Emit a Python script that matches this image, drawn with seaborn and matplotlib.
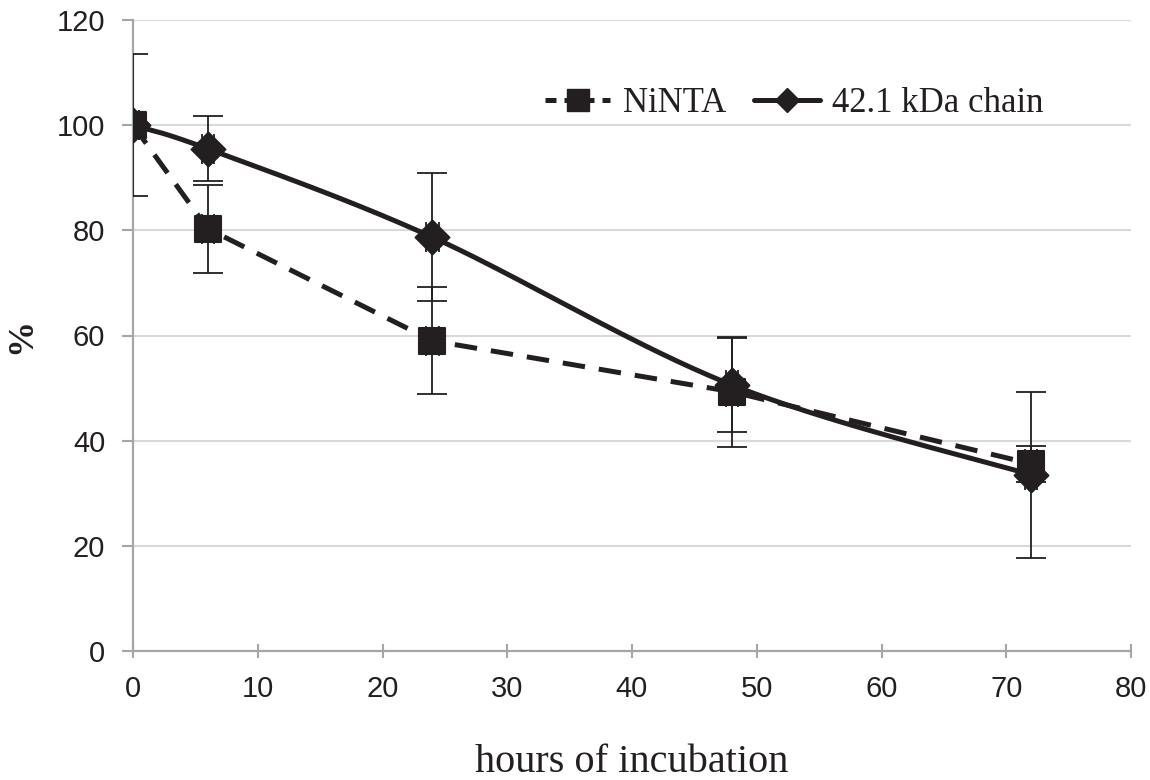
import numpy as np
import pandas as pd
import matplotlib
matplotlib.use("Agg")
import matplotlib.pyplot as plt
import seaborn as sns
from matplotlib.lines import Line2D

hours = [0, 6, 24, 48, 72]
ninta = [100, 80.3, 59.0, 49.3, 35.6]
ninta_err = [0.5, 8.4, 10.2, 10.5, 3.4]
chain = [100, 95.5, 78.7, 50.6, 33.5]
chain_err = [13.5, 6.2, 12.2, 9.0, 15.8]
x_err = [0.5, 0.5, 0.5, 0.5, 0.5]
series_names = ["NiNTA", "42.1 kDa chain"]

sns.set_style("white")
plt.rcParams['font.family'] = ['Liberation Sans', 'DejaVu Sans']

def smooth(xs, ys, n=40):
    # Catmull-Rom style smoothing for drawing the connecting curve
    xs = np.asarray(xs, float); ys = np.asarray(ys, float)
    px = np.concatenate([[xs[0]], xs, [xs[-1]]])
    py = np.concatenate([[ys[0]], ys, [ys[-1]]])
    outx, outy = [], []
    for i in range(1, len(px) - 2):
        p0 = np.array([px[i-1], py[i-1]]); p1 = np.array([px[i], py[i]])
        p2 = np.array([px[i+1], py[i+1]]); p3 = np.array([px[i+2], py[i+2]])
        t = np.linspace(0, 1, n)[:, None]
        c1 = p1 + (p2 - p0) / 6.0
        c2 = p2 - (p3 - p1) / 6.0
        b = ((1-t)**3)*p1 + 3*((1-t)**2)*t*c1 + 3*(1-t)*t**2*c2 + t**3*p2
        outx.extend(b[:, 0]); outy.extend(b[:, 1])
    return np.array(outx), np.array(outy)

fig = plt.figure(figsize=(11.5, 7.8), dpi=100)
ax = fig.add_axes([133/1150, 1-651/780, (1131-133)/1150, (651-20)/780])

col = "#231f20"
cx, cy = smooth(hours, chain)
sns.lineplot(x=hours, y=ninta, ax=ax, color=col, lw=3.6, linestyle=(0, (4.5, 2.8)), sort=False, legend=False)
sns.lineplot(x=cx, y=cy, ax=ax, color=col, lw=3.6, sort=False, legend=False)

ax.errorbar(hours, ninta, yerr=ninta_err, xerr=x_err, fmt='none', ecolor=col, elinewidth=1.3, capsize=11, capthick=1.3, zorder=3)
ax.errorbar(hours, chain, yerr=chain_err, xerr=x_err, fmt='none', ecolor=col, elinewidth=1.3, capsize=11, capthick=1.3, zorder=3)

df = pd.DataFrame({"h": hours * 2, "v": ninta + chain,
                   "s": [series_names[0]] * 5 + [series_names[1]] * 5})
sns.scatterplot(data=df[df.s == series_names[0]], x="h", y="v", ax=ax, marker="s", s=360, color=col, edgecolor=col, zorder=4, legend=False)
sns.scatterplot(data=df[df.s == series_names[1]], x="h", y="v", ax=ax, marker="D", s=300, color=col, edgecolor=col, zorder=5, legend=False)

ax.set_xlim(0, 80)
ax.set_ylim(0, 120)
ax.set_xticks(range(0, 81, 10))
ax.set_yticks(range(0, 121, 20))
ax.yaxis.grid(True, color="#d9d9d9", lw=1.5)
ax.xaxis.grid(False)
ax.set_axisbelow(True)
for s in ["top", "right"]:
    ax.spines[s].set_visible(False)
for s in ["left", "bottom"]:
    ax.spines[s].set_color("#a6a6a6")
    ax.spines[s].set_linewidth(1.6)
ax.tick_params(axis='both', labelsize=21, colors="#a6a6a6", labelcolor="#231f20", width=1.5)
ax.tick_params(axis='x', direction='inout', length=10, pad=12)
ax.tick_params(axis='y', direction='out', length=8, pad=12)
ax.tick_params(left=True, bottom=True)

ax.set_xlabel("hours of incubation", fontsize=29, family=['Liberation Serif'], labelpad=30, color=col)
ax.set_ylabel("%", fontsize=26, family=['Liberation Serif'], fontweight='bold', color=col)
ax.yaxis.set_label_coords(-0.095, 0.5)

handles = [Line2D([], [], color=col, lw=3.6, linestyle=(0, (2.2, 1.6)), marker='s', markersize=16),
           Line2D([], [], color=col, lw=3.6, marker='D', markersize=12)]
ax.legend(handles, series_names, loc='center right', bbox_to_anchor=(0.912, 0.867), ncol=2, frameon=False,
          prop={'family': 'Liberation Serif', 'size': 25}, handlelength=1.9, columnspacing=0.8, handletextpad=0.35,
          labelcolor=col, borderaxespad=0, borderpad=0)

fig.savefig("out.png", dpi=100, facecolor="white")
